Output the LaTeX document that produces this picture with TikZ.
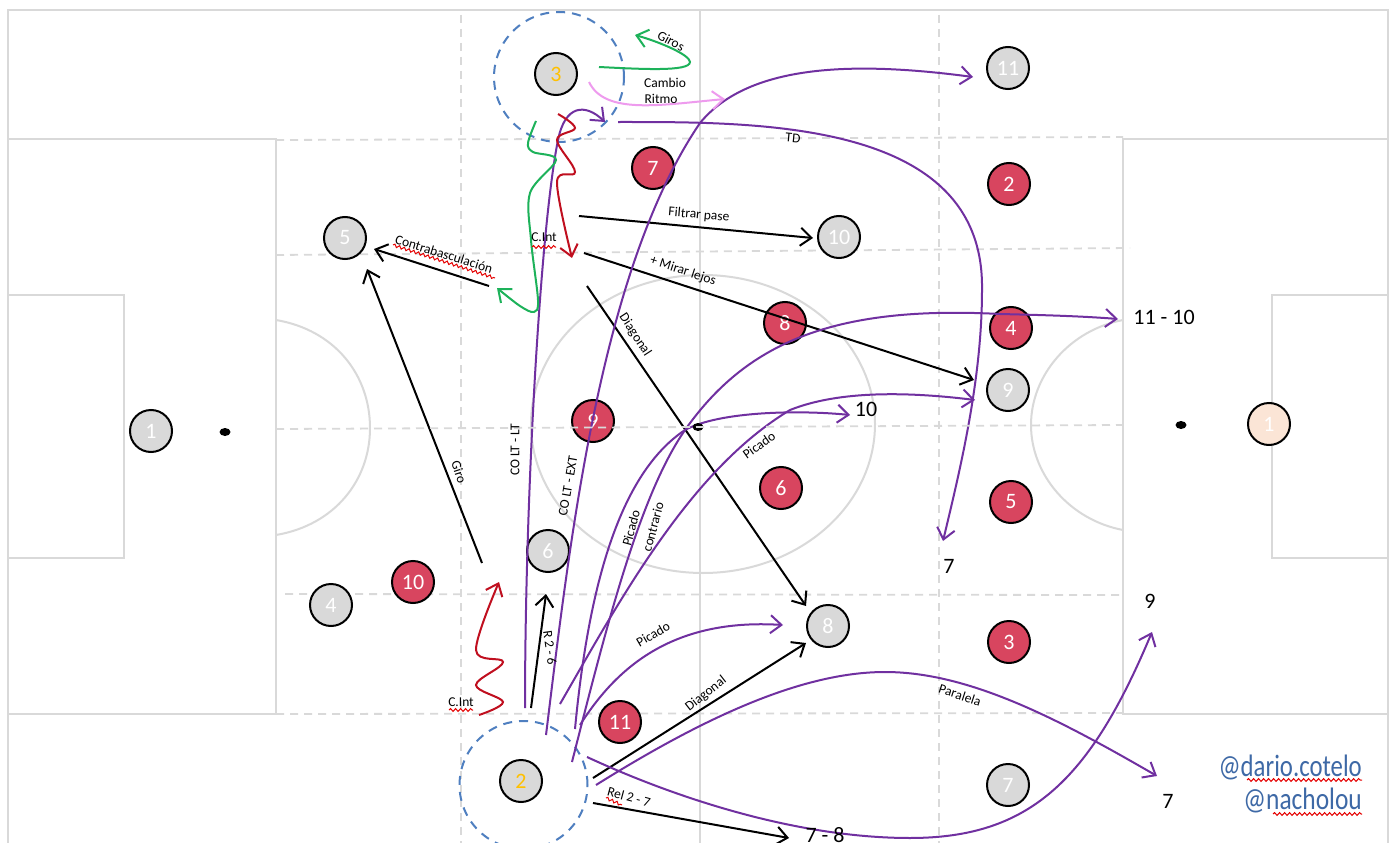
\documentclass[tikz,border=0pt]{standalone}
\usepackage{fontspec}
\setmainfont{Carlito}
\usetikzlibrary{arrows.meta,decorations.pathmorphing,shapes.geometric}
\definecolor{pitch}{HTML}{D9D9D9}
\definecolor{dash}{HTML}{D9D9D9}
\definecolor{teamred}{HTML}{D8455F}
\definecolor{gk}{HTML}{FBE5D6}
\definecolor{amber}{HTML}{FFC000}
\definecolor{ringblue}{HTML}{4F7FC0}
\definecolor{run}{HTML}{7030A0}
\definecolor{dribble}{HTML}{C00F1F}
\definecolor{turn}{HTML}{1DB25A}
\definecolor{pinkrun}{HTML}{EE9BEE}
\definecolor{handle}{HTML}{3E69A6}
\newcommand{\fs}[1]{\fontsize{#1}{#1}\selectfont}
\tikzset{
  x=1pt,y=-1pt,
  pitchline/.style={draw=pitch,line width=2pt},
  dashline/.style={draw=dash,line width=1.8pt,dash pattern=on 8pt off 6pt},
  player/.style={circle,draw=black,line width=2pt,minimum size=42pt,inner sep=0pt,font=\fs{22},text=white},
  grayp/.style={player,fill=pitch},
  redp/.style={player,fill=teamred},
  tip/.style={-{Straight Barb[length=11pt,width=18pt,line width=2pt]}},
  blackarrow/.style={draw=black,line width=2pt,tip},
  purplearrow/.style={draw=run,line width=2pt,tip},
  redarrow/.style={draw=dribble,line width=2pt,tip},
  greenarrow/.style={draw=turn,line width=2pt,tip},
  pinkarrow/.style={draw=pinkrun,line width=2pt,tip},
  ring/.style={circle,draw=ringblue,line width=2pt,dash pattern=on 9pt off 7pt,inner sep=0pt},
  ball/.style={ellipse,fill=black,minimum width=11pt,minimum height=8pt,inner sep=0pt},
  lbl/.style={font=\fs{13.5},text=black,inner sep=0pt},
  big/.style={font=\fs{22},text=black,inner sep=0pt},
  hand/.style={font=\fs{31},text=handle,inner sep=0pt,anchor=east},
  wavy/.style={draw=red!90!black,line width=1pt,decorate,decoration={snake,amplitude=1.4pt,segment length=5pt}},
}
\begin{document}
\begin{tikzpicture}
\useasboundingbox (0,0) rectangle (1393,843);
\fill[white] (0,0) rectangle (1393,843);
% pitch
\draw[pitchline] (8,843) -- (8,10) -- (1388,10) -- (1388,843);
\draw[pitchline] (8,139) -- (276,139) -- (276,714) -- (8,714);
\draw[pitchline] (8,295) -- (124,295) -- (124,558) -- (8,558);
\draw[pitchline] (1388,139) -- (1123,139) -- (1123,714) -- (1388,714);
\draw[pitchline] (1388,295) -- (1272,295) -- (1272,558) -- (1388,558);
\draw[pitchline] (700,10) -- (700,843);
\draw[pitchline] (703,424) ellipse[x radius=172,y radius=149];
\draw[pitchline] (276,320) .. controls (335,330) and (370,375) .. (370,428) .. controls (370,480) and (335,525) .. (276,535);
\draw[pitchline] (1123,320) .. controls (1070,330) and (1031,375) .. (1031,425) .. controls (1031,475) and (1070,520) .. (1123,530);
\draw[dashline] (461,15) -- (461,843);
\draw[dashline] (939,15) -- (939,843);
\draw[dashline] (276,140) -- (1123,137);
\draw[dashline] (276,255) -- (1130,248);
\draw[dashline] (285,594) -- (1123,595);
\draw[dashline] (276,714) -- (1123,713);
% rings
\node[ring,minimum size=130pt] (ringtop) at (559,77) {};
\node[ring,minimum size=128pt] (ringbottom) at (523.5,785) {};
% players
\node[grayp] (g1) at (151,431) {1};
\node[grayp] (g5) at (345,238) {5};
\node[grayp] (g4) at (331,605) {4};
\node[grayp] (g6) at (548,551) {6};
\node[grayp,text=amber] (g3) at (556,74) {3};
\node[grayp,text=amber] (g2) at (521,781) {2};
\node[grayp] (g8) at (828,626) {8};
\node[grayp] (g10) at (839,237) {10};
\node[grayp] (g11) at (1008,68) {11};
\node[grayp] (g9) at (1008,390) {9};
\node[grayp] (g7) at (1008,785) {7};
\node[player,fill=gk] (gkright) at (1269,424) {1};
\node[redp] (r7) at (653,168) {7};
\node[redp] (r2) at (1009,184) {2};
\node[redp] (r8) at (785,323) {8};
\node[redp] (r4) at (1011,328) {4};
\node[redp] (r9) at (593,421) {9};
\node[redp] (r6) at (781,488) {6};
\node[redp] (r5) at (1011,502) {5};
\node[redp] (r10) at (413,582) {10};
\node[redp] (r3) at (1009,642) {3};
\node[redp] (r11) at (620,722) {11};
% free end points
\coordinate (fpS) at (579,216);
\coordinate (fpE) at (813,238);
\coordinate (mlS) at (584,253);
\coordinate (mlE) at (974,380);
\coordinate (dgS) at (587,286);
\coordinate (dgE) at (806,606);
\coordinate (grS) at (482,563);
\coordinate (grE) at (367,269);
\coordinate (cbS) at (489,286);
\coordinate (cbE) at (374,249);
\coordinate (r26S) at (531,708);
\coordinate (r26E) at (546,594);
\coordinate (d2S) at (593,778);
\coordinate (d2E) at (806,643);
\coordinate (rlS) at (593,803);
\coordinate (rlE) at (789,838);
\coordinate (ltS) at (525,708);
\coordinate (ltE) at (605,122);
\coordinate (exS) at (546,735);
\coordinate (exE) at (973,77);
\coordinate (tdS) at (618,122);
\coordinate (tdE) at (943,541);
\coordinate (aS) at (575,729);
\coordinate (aE) at (850,415);
\coordinate (bS) at (572,762);
\coordinate (bE) at (1118,319);
\coordinate (cS) at (560,704);
\coordinate (cE) at (975,400);
\coordinate (pS) at (580,725);
\coordinate (pE) at (783,625);
\coordinate (paS) at (596,785);
\coordinate (paE) at (1157,776);
\coordinate (nS) at (587,757);
\coordinate (nE) at (1152,632);
\coordinate (redtS) at (558,114);
\coordinate (redtE) at (572,258);
\coordinate (redbS) at (479,715);
\coordinate (redbE) at (499,582);
\coordinate (girS) at (599,67);
\coordinate (girE) at (635,35);
\coordinate (grnS) at (536,121);
\coordinate (grnE) at (497,288);
\coordinate (pkS) at (589,82);
\coordinate (pkE) at (725,99);
% black arrows
\draw[blackarrow] (fpS) -- (fpE);
\draw[blackarrow] (mlS) -- (mlE);
\draw[blackarrow] (dgS) -- (dgE);
\draw[blackarrow] (grS) -- (grE);
\draw[blackarrow] (cbS) -- (cbE);
\draw[blackarrow] (r26S) -- (r26E);
\draw[blackarrow] (d2S) -- (d2E);
\draw[blackarrow] (rlS) -- (rlE);
% purple runs
\draw[purplearrow] (ltS) .. controls (525,500) and (540,230) .. (558,140) .. controls (565,105) and (585,103) .. (ltE);
\draw[purplearrow] (exS) .. controls (570,540) and (600,270) .. (700,123) .. controls (750,62) and (860,62) .. (exE);
\draw[purplearrow] (tdS) .. controls (760,122) and (985,120) .. (982,290) .. controls (982,380) and (960,470) .. (tdE);
\draw[purplearrow] (aS) .. controls (590,570) and (625,470) .. (685,430) .. controls (720,411) and (800,410) .. (aE);
\draw[purplearrow] (bS) .. controls (608,620) and (640,495) .. (685,430) .. controls (745,345) and (830,305) .. (1000,314) .. controls (1040,315) and (1080,316) .. (bE);
\draw[purplearrow] (cS) .. controls (620,600) and (690,470) .. (790,410) .. controls (840,390) and (910,392) .. (cE);
\draw[purplearrow] (pS) .. controls (615,670) and (670,618) .. (pE);
\draw[purplearrow] (paS) .. controls (700,720) and (800,672) .. (885,672) .. controls (970,672) and (1060,720) .. (paE);
\draw[purplearrow] (nS) .. controls (680,800) and (800,838) .. (910,838) .. controls (1030,838) and (1090,780) .. (nE);
% red dribbles
\draw[redarrow] plot[smooth,tension=0.6] coordinates {(redtS) (575,128) (557,140) (575,172) (557,182) (redtE)};
\draw[redarrow] plot[smooth,tension=0.6] coordinates {(redbS) (503,702) (476,685) (503,662) (476,650) (redbE)};
% green turns
\draw[greenarrow] (girS) .. controls (640,69) and (690,72) .. (690,62) .. controls (690,55) and (660,42) .. (girE);
\draw[greenarrow] plot[smooth,tension=0.55] coordinates {(grnS) (528,143) (533,152) (556,160) (530,193) (531,240) (538,300) (534,312) (520,306) (grnE)};
% pink
\draw[pinkarrow] (pkS) .. controls (605,115) and (660,105) .. (pkE);
% balls
\node[ball] (ballleft) at (225,432) {};
\node[ball] (ballright) at (1181,425) {};
\node[ball] (ballmid) at (698,427) {};
\draw[dashline] (276,429) -- (1123,425);
% labels
\node[lbl,rotate=-28] (tGiros) at (671,41) {Giros};
\node[lbl] (tCambio) at (665,83) {Cambio};
\node[lbl] (tRitmo) at (661,99) {Ritmo};
\node[lbl,rotate=-5] (tTD) at (793,138) {TD};
\node[lbl,rotate=-5] (tFiltrar) at (699,215) {Filtrar pase};
\node[lbl] (tCint) at (544,237) {C.Int};
\node[lbl,rotate=-18] (tMirar) at (683,271) {+ Mirar lejos};
\node[lbl,rotate=-17] (tContra) at (444,254) {Contrabasculación};
\node[lbl,rotate=-57] (tDiag) at (635,335) {Diagonal};
\node[lbl,rotate=-72] (tGiro) at (459,472) {Giro};
\node[lbl,rotate=90] (tLT) at (515,450) {CO LT - LT};
\node[lbl,rotate=80] (tEXT) at (568,486) {CO LT - EXT};
\node[lbl,rotate=75] (tPic1) at (631,528) {Picado};
\node[lbl,rotate=75] (tContr) at (653,527) {contrario};
\node[lbl,rotate=35] (tPic2) at (759,445) {Picado};
\node[lbl,rotate=-82] (tR26) at (550,648) {R 2 - 6};
\node[lbl] (tCint2) at (461,702) {C.Int};
\node[lbl,rotate=30] (tPic3) at (653,634) {Picado};
\node[lbl,rotate=38] (tDiag2) at (706,694) {Diagonal};
\node[lbl,rotate=-15] (tRel) at (629,797) {Rel 2 - 7};
\node[lbl,rotate=-18] (tPar) at (960,695) {Paralela};
\node[big] (t1110) at (1164,317) {11 - 10};
\node[big] (t10) at (866,409) {10};
\node[big] (t7a) at (949,566) {7};
\node[big] (t9) at (1150,601) {9};
\node[big] (t7b) at (1168,801) {7};
\node[big] (t78) at (825,835) {7 - 8};
\node[hand] (h1) at (1362,767) {\scalebox{0.8}[1]{@dario.cotelo}};
\node[hand] (h2) at (1362,800) {\scalebox{0.82}[1]{@nacholou}};
% spell-check waves
\coordinate (w1a) at (532,247); \coordinate (w1b) at (556,247);
\coordinate (w2a) at (393,245); \coordinate (w2b) at (495,278);
\coordinate (w3a) at (449,710); \coordinate (w3b) at (473,710);
\coordinate (w4a) at (606,798); \coordinate (w4b) at (622,805);
\coordinate (w5a) at (1247,780); \coordinate (w5b) at (1362,780);
\coordinate (w6a) at (1273,814); \coordinate (w6b) at (1362,814);
\draw[wavy] (w1a) -- (w1b);
\draw[wavy] (w2a) -- (w2b);
\draw[wavy] (w3a) -- (w3b);
\draw[wavy] (w4a) -- (w4b);
\draw[wavy] (w5a) -- (w5b);
\draw[wavy] (w6a) -- (w6b);
\end{tikzpicture}
\end{document}
